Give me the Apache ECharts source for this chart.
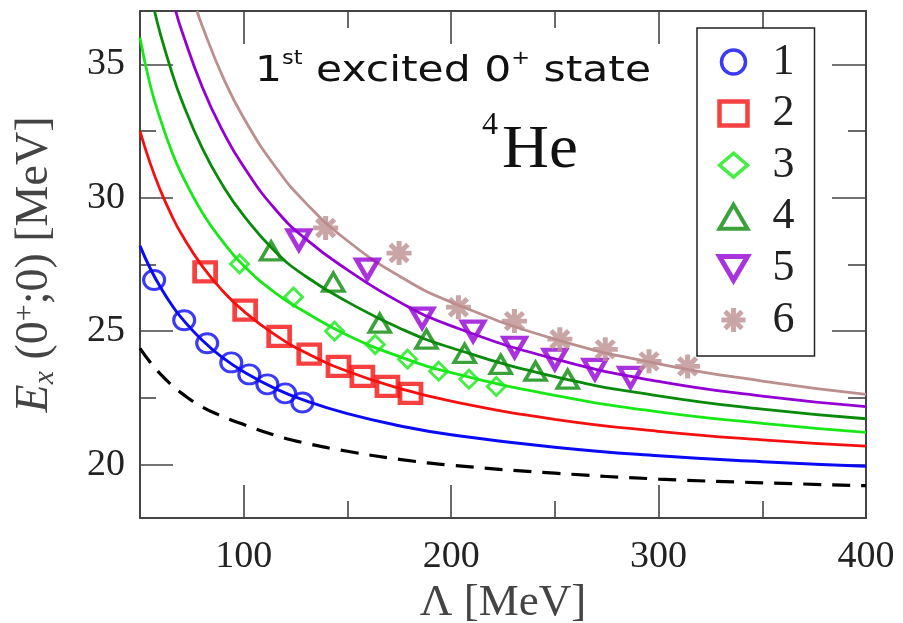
<!DOCTYPE html>
<html><head><meta charset="utf-8">
<script src="https://cdn.jsdelivr.net/npm/echarts@6/dist/echarts.min.js"></script>
<style>html,body{margin:0;padding:0;background:#fff}#c{width:903px;height:623px}</style>
</head><body><div id="c"></div>
<script>
// ---- axis ticks / labels ----
const xTickLabels = [100, 200, 300, 400];
const xMajorTicks = [100, 200, 300];
const xMinorTicks = [150, 250, 350];
const yTickLabels = [20, 25, 30, 35];
const yMajorTicks = [20, 25, 30, 35];
const yMinorTicks = [22.5, 27.5, 32.5];

// ---- legend names ----
const seriesNames = ['1', '2', '3', '4', '5', '6'];

// ---- data points (Lambda [MeV], Ex [MeV]) ----
const lam1 = [56.8, 71.3, 82.4, 94.0, 102.7, 111.4, 120.0, 128.3];
const ex1  = [26.92, 25.41, 24.55, 23.83, 23.38, 23.01, 22.67, 22.33];
const lam2 = [81.4, 100.7, 117.1, 131.6, 145.7, 157.2, 169.3, 180.4];
const ex2  = [27.22, 25.79, 24.81, 24.14, 23.68, 23.31, 22.93, 22.67];
const lam3 = [98.0, 124.0, 143.8, 163.4, 179.0, 194.0, 208.6, 221.8];
const ex3  = [27.52, 26.28, 25.00, 24.50, 23.95, 23.50, 23.20, 22.93];
const lam4 = [113.2, 143.2, 165.6, 188.1, 206.5, 223.9, 240.7, 256.2];
const ex4  = [28.01, 26.84, 25.30, 24.70, 24.17, 23.76, 23.50, 23.20];
const lam5 = [126.6, 159.6, 186.0, 210.6, 230.6, 250.0, 269.3, 286.5];
const ex5  = [28.42, 27.33, 25.49, 25.00, 24.40, 23.95, 23.57, 23.27];
const lam6 = [139.5, 174.9, 203.5, 230.5, 252.4, 274.3, 295.4, 314.0];
const ex6  = [28.87, 27.93, 25.90, 25.38, 24.70, 24.32, 23.87, 23.68];

// ---- fitted curves ----
const fitLamA = [50, 55, 60, 65, 70, 80, 90, 100, 115, 130, 150, 175, 200, 250, 300, 350, 400];
const fit1 = [28.20, 27.34, 26.63, 26.02, 25.50, 24.66, 24.00, 23.48, 22.86, 22.39, 21.91, 21.46, 21.12, 20.65, 20.33, 20.11, 19.94];
const fit2 = [32.50, 31.27, 30.25, 29.38, 28.64, 27.44, 26.50, 25.75, 24.87, 24.19, 23.50, 22.86, 22.38, 21.70, 21.25, 20.93, 20.69];
const fit3 = [36.00, 34.20, 32.90, 31.80, 30.90, 29.45, 28.35, 27.45, 26.45, 25.70, 24.85, 24.05, 23.45, 22.60, 21.98, 21.55, 21.21];
const fitDash = [24.36, 23.83, 23.38, 23.00, 22.68, 22.16, 21.80, 21.50, 21.10, 20.80, 20.50, 20.20, 19.98, 19.68, 19.46, 19.32, 19.21];
const fitLam4 = [57, 60, 65, 70, 80, 90, 100, 115, 130, 150, 175, 200, 250, 300, 350, 400];
const fit4 = [37.00, 36.09, 34.79, 33.67, 31.86, 30.45, 29.33, 28.00, 27.05, 26.10, 25.12, 24.38, 23.30, 22.58, 22.08, 21.72];
const fitLam5 = [67.2, 70, 80, 90, 100, 115, 130, 150, 175, 200, 250, 300, 350, 400];
const fit5 = [37.00, 36.29, 34.15, 32.49, 31.16, 29.59, 28.45, 27.30, 26.10, 25.20, 23.96, 23.12, 22.57, 22.17];
const fitLam6 = [77.5, 80, 90, 100, 115, 130, 150, 175, 200, 250, 300, 350, 400];
const fit6 = [37.00, 36.44, 34.52, 32.99, 31.19, 29.80, 28.39, 27.07, 26.09, 24.70, 23.78, 23.13, 22.63];

const C = {b:'#0a0af5', r:'#f51010', g:'#18e818', dg:'#0a8a0a', v:'#9400d3', br:'#bc8f8f'};
const ASTER = 'path://M8 0L12 0L12 20L8 20Z M0 8L20 8L20 12L0 12Z M4.34 1.51L18.49 15.66L15.66 18.49L1.51 4.34Z M1.51 15.66L15.66 1.51L18.49 4.34L4.34 18.49Z';
const DOWNTRI = 'path://M0 0L20 0L10 17Z';

const zip = (xs, ys) => xs.map((x, i) => [x, ys[i]]);
const axisCol = '#444';
const serif = 'Liberation Serif';

function curve(name, xs, ys, color, width, type) {
  return {type: 'line', name, data: zip(xs, ys), symbol: 'none', showSymbol: false, smooth: true,
    lineStyle: {color, width, type: type || 'solid'}, z: 2, silent: true, clip: true};
}
function pts(name, xs, ys, symbol, size, color, bw, filled) {
  return {type: 'scatter', name, data: zip(xs, ys), symbol, symbolSize: size, z: 5,
    itemStyle: filled ? {color: color, borderWidth: 0} : {color: 'transparent', borderColor: color, borderWidth: bw}};
}

function xAx(pos, ticks, len, lbl, line) {
  return {type: 'value', position: pos, min: 50, max: 400, gridIndex: 0,
    axisLine: {show: line, onZero: false, lineStyle: {color: axisCol, width: 2}},
    axisTick: {show: true, inside: true, length: len, customValues: ticks, lineStyle: {color: axisCol, width: 1.6}},
    axisLabel: lbl ? {show: true, customValues: xTickLabels, margin: 20, fontFamily: serif, fontSize: 38, color: '#222'} : {show: false},
    splitLine: {show: false}};
}
function yAx(pos, ticks, len, lbl, line) {
  return {type: 'value', position: pos, min: 18, max: 37, gridIndex: 0,
    axisLine: {show: line, onZero: false, lineStyle: {color: axisCol, width: 2}},
    axisTick: {show: true, inside: true, length: len, customValues: ticks, lineStyle: {color: axisCol, width: 1.6}},
    axisLabel: lbl ? {show: true, customValues: yTickLabels, margin: 15, fontFamily: serif, fontSize: 38, color: '#222'} : {show: false},
    splitLine: {show: false}};
}

const xAxes = [xAx('bottom', xMajorTicks, 33, true, true), xAx('bottom', xMinorTicks, 17, false, false),
               xAx('top', xMajorTicks, 33, false, true), xAx('top', xMinorTicks, 17, false, false)];
xAxes[0].name = 'Λ [MeV]';
xAxes[0].nameLocation = 'middle';
xAxes[0].nameGap = 59;
xAxes[0].nameTextStyle = {fontFamily: serif, fontSize: 45, color: '#444'};

const yAxes = [yAx('left', yMajorTicks, 33, true, true), yAx('left', yMinorTicks, 16, false, false),
               yAx('right', yMajorTicks, 34, false, true), yAx('right', yMinorTicks, 18, false, false)];
yAxes[0].name = '{e|E}{s|x}{n| (0}{p|+}{n|;0) [MeV]}';
yAxes[0].nameLocation = 'middle';
yAxes[0].nameGap = 80;
yAxes[0].nameTextStyle = {fontFamily: serif, fontSize: 46, color: '#444', rich: {
  e: {fontFamily: serif, fontSize: 46, fontStyle: 'italic', color: '#444', lineHeight: 50},
  s: {fontFamily: serif, fontSize: 30, fontStyle: 'italic', color: '#444', lineHeight: 22, verticalAlign: 'bottom'},
  n: {fontFamily: serif, fontSize: 46, color: '#444', lineHeight: 50},
  p: {fontFamily: serif, fontSize: 30, color: '#444', lineHeight: 22, verticalAlign: 'top'}
}};

const legendBorders = [3.5, 4.5, 3.5, 4, 5, 0];
const legendData = seriesNames.map((n, i) => ({name: n, itemStyle: {borderWidth: legendBorders[i]}}));

const chart = echarts.init(document.getElementById('c'), null, {renderer: 'canvas'});
chart.setOption({
  animation: false,
  backgroundColor: '#fff',
  grid: {left: 140, right: 37, top: 11, bottom: 105, containLabel: false, outerBoundsMode: 'none'},
  xAxis: xAxes,
  yAxis: yAxes,
  legend: {
    orient: 'vertical', left: 697, top: 28, padding: [12, 20, 14, 20], itemGap: 7.6,
    itemWidth: 28, itemHeight: 24, borderColor: '#222', borderWidth: 1.5, backgroundColor: '#fff',
    textStyle: {fontFamily: serif, fontSize: 44, color: '#222', lineHeight: 40, padding: [0, 0, 0, 20]},
    data: legendData, selectedMode: false
  },
  graphic: [
    {type: 'text', x: 255, y: 50, scaleX: 1.18, z: 10, style: {
      text: '{a|1}{s|st}{a| excited 0}{s|+}{a| state}', align: 'left', verticalAlign: 'top',
      rich: {
        a: {fontFamily: 'DejaVu Sans', fontSize: 36, fill: '#111', lineHeight: 44},
        s: {fontFamily: 'DejaVu Sans', fontSize: 19, fill: '#111', lineHeight: 22, verticalAlign: 'top'}
      }}},
    {type: 'text', x: 482, y: 110, z: 10, style: {text: '4', fontFamily: serif, fontSize: 32, fill: '#111', align: 'left', verticalAlign: 'top'}},
    {type: 'text', x: 502, y: 120, scaleX: 1.05, z: 10, style: {text: 'He', fontFamily: serif, fontSize: 62, fill: '#111', align: 'left', verticalAlign: 'top'}}
  ],
  series: [
    curve('d', fitLamA, fitDash, '#000', 3.2, [18, 11]),
    curve('f1', fitLamA, fit1, C.b, 3),
    curve('f2', fitLamA, fit2, C.r, 2.8),
    curve('f3', fitLamA, fit3, C.g, 2.8),
    curve('f4', fitLam4, fit4, C.dg, 2.8),
    curve('f5', fitLam5, fit5, C.v, 2.8),
    curve('f6', fitLam6, fit6, C.br, 2.8),
    pts('1', lam1, ex1, 'circle', [21, 19], C.b, 3, false),
    pts('2', lam2, ex2, 'rect', [21, 19], C.r, 4.5, false),
    pts('3', lam3, ex3, 'diamond', [18, 18], C.g, 3, false),
    pts('4', lam4, ex4, 'triangle', [21, 18], C.dg, 3.5, false),
    pts('5', lam5, ex5, DOWNTRI, [22, 19], C.v, 4.5, false),
    pts('6', lam6, ex6, ASTER, [25, 24], C.br, 0, true)
  ]
});
</script></body></html>
